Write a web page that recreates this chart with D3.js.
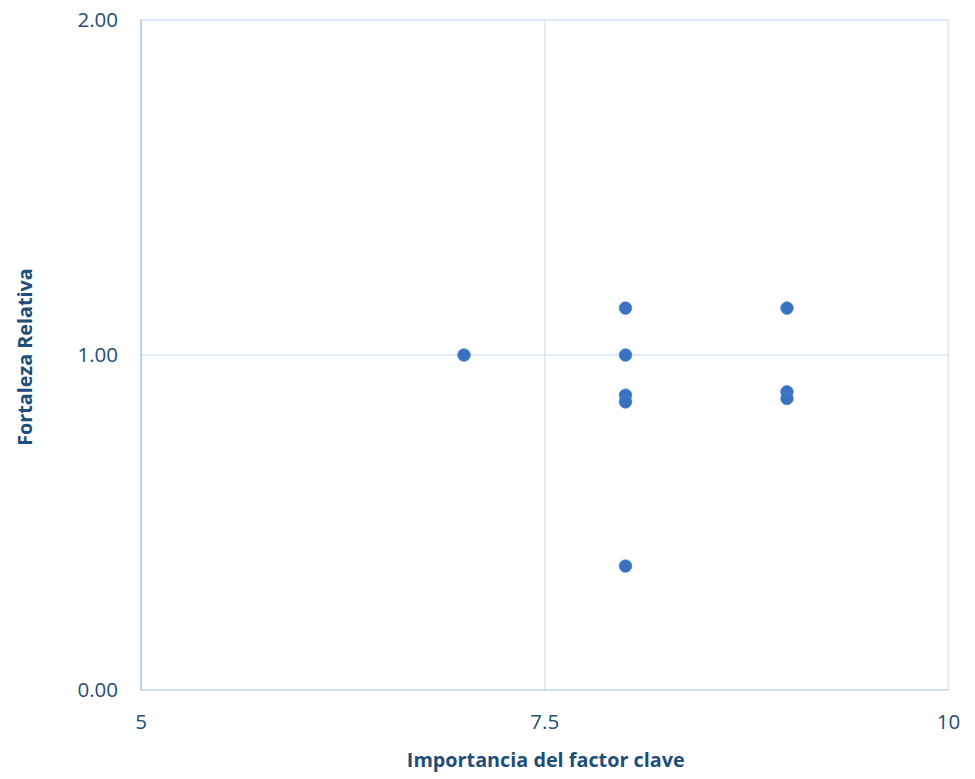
<!DOCTYPE html>
<html><head><meta charset="utf-8">
<script src="https://cdn.jsdelivr.net/npm/d3@7"></script>
<style>body{margin:0;background:#fff}svg{display:block}</style>
</head><body>
<svg id="c" width="975" height="779"></svg>
<script>
const importancia = [7, 8, 8, 8, 8, 8, 9, 9, 9];
const fortaleza = [1.00, 1.14, 1.00, 0.88, 0.86, 0.37, 1.14, 0.89, 0.87];
const xTicks = [5, 7.5, 10];
const yTicks = [0, 1, 2];
const xTitle = "Importancia del factor clave";
const yTitle = "Fortaleza Relativa";

const svg = d3.select("#c");
const m = {l:141, r:948.5, t:20, b:690};
const x = d3.scaleLinear().domain([5,10]).range([m.l, m.r]);
const y = d3.scaleLinear().domain([0,2]).range([m.b, m.t]);
const font = "'Open Sans', 'Liberation Sans', sans-serif";
const txt = "#1f4e79";

// grid
svg.append("g").selectAll("line").data(xTicks.slice(1)).join("line")
  .attr("x1", d=>x(d)).attr("x2", d=>x(d)).attr("y1", m.t).attr("y2", m.b)
  .attr("stroke", "#dae5f4").attr("stroke-width", 1.5);
svg.append("g").selectAll("line").data(yTicks.slice(1)).join("line")
  .attr("x1", m.l).attr("x2", m.r).attr("y1", d=>y(d)).attr("y2", d=>y(d))
  .attr("stroke", "#dae5f4").attr("stroke-width", 1.5);
// axes lines
svg.append("line").attr("x1", m.l).attr("x2", m.r).attr("y1", m.b).attr("y2", m.b)
  .attr("stroke", "#bcd4ee").attr("stroke-width", 1.5);
svg.append("line").attr("x1", m.l).attr("x2", m.l).attr("y1", m.t).attr("y2", m.b)
  .attr("stroke", "#a3c3e8").attr("stroke-width", 1.5);

// tick labels
svg.append("g").selectAll("text").data(yTicks).join("text")
  .attr("x", 118).attr("y", d=>y(d)).attr("dy", "0.35em")
  .attr("text-anchor", "end").attr("font-family", font).attr("font-size", 20.5)
  .attr("fill", txt).text(d=>d3.format(".2f")(d));
svg.append("g").selectAll("text").data(xTicks).join("text")
  .attr("x", d=>x(d)).attr("y", 722).attr("dy", "0.35em")
  .attr("text-anchor", "middle").attr("font-family", font).attr("font-size", 20.5)
  .attr("fill", txt).text(d=>d);

// titles
svg.append("text").attr("x", x(7.5)+1).attr("y", 760).attr("dy", "0.35em")
  .attr("text-anchor", "middle").attr("font-family", font).attr("font-size", 19.8)
  .attr("font-weight", "bold").attr("fill", txt).text(xTitle);
svg.append("text").attr("transform", `translate(25,${y(1)+2}) rotate(-90)`)
  .attr("dy", "0.35em").attr("text-anchor", "middle").attr("font-family", font)
  .attr("font-size", 19.8).attr("font-weight", "bold").attr("fill", txt).text(yTitle);

// points
svg.append("g").selectAll("circle").data(importancia.map((v,i)=>[v, fortaleza[i]])).join("circle")
  .attr("cx", d=>x(d[0])).attr("cy", d=>y(d[1])).attr("r", 6.3)
  .attr("fill", "#3a72bf").attr("stroke", "#4a82cc").attr("stroke-width", 0.8);
</script>
</body></html>
